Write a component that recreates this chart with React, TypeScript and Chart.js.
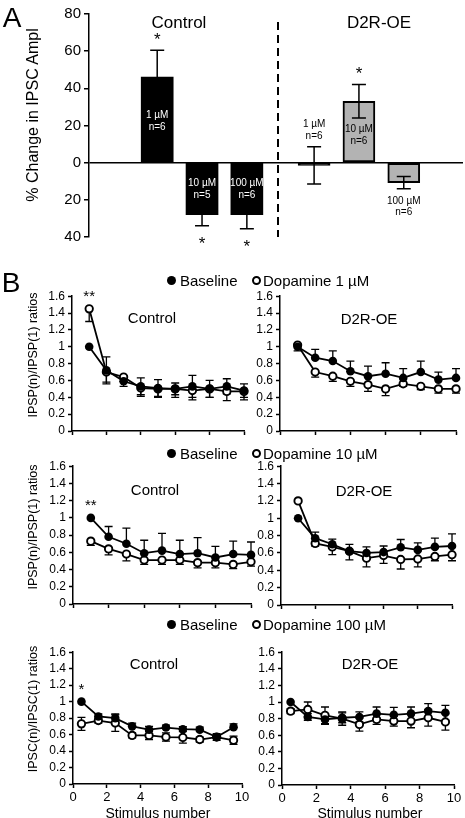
import React, { useEffect, useRef } from 'react';
import { Chart, registerables } from 'chart.js';
Chart.register(...registerables);

const FONT = '"Liberation Sans", Arial, Helvetica, sans-serif';
Chart.defaults.font.family = FONT;
Chart.defaults.color = '#000';

// ---------- Panel A data ----------
const A_GROUPS = ['Control', 'Control', 'Control', 'D2R-OE', 'D2R-OE', 'D2R-OE'];
const A_CONC = ['1 µM', '10 µM', '100 µM', '1 µM', '10 µM', '100 µM'];
const A_N = ['n=6', 'n=5', 'n=6', 'n=6', 'n=6', 'n=6'];
const A_SLOTS = [0, 1, 2, 3.5, 4.5, 5.5];
const A_VALUES = [46, -28, -28, -1.5, 33, -10.7];
const A_SEM = [14.5, 6, 7.5, 10, 9, 3.3];
const A_SIG = ['*', '*', '*', '', '*', ''];
const A_LABEL_POS = ['in', 'in', 'in', 'above', 'in', 'below'];
const A_DIVIDER = 2.7;

// ---------- Panel B data ----------
const STIM_AB = [1, 2, 3, 4, 5, 6, 7, 8, 9, 10];
const STIM_C = [0.5, 1.5, 2.5, 3.5, 4.5, 5.5, 6.5, 7.5, 8.5, 9.5];
const LEGEND_DOSES = ['1 µM', '10 µM', '100 µM'];

const B1_CTRL_BASE = [1.0, 0.72, 0.59, 0.53, 0.51, 0.50, 0.53, 0.50, 0.53, 0.48];
const B1_CTRL_BASE_SEM = [0, 0.16, 0.06, 0.1, 0.1, 0.07, 0.13, 0.1, 0.09, 0.08];
const B1_CTRL_DA = [1.45, 0.70, 0.64, 0.51, 0.50, 0.50, 0.48, 0.50, 0.47, 0.47];
const B1_CTRL_DA_SEM = [0.15, 0.12, 0.05, 0.1, 0.1, 0.1, 0.11, 0.1, 0.11, 0.1];

const B1_D2R_BASE = [1.0, 0.87, 0.83, 0.71, 0.65, 0.68, 0.63, 0.70, 0.61, 0.63];
const B1_D2R_BASE_SEM = [0.03, 0.1, 0.12, 0.12, 0.12, 0.13, 0.11, 0.13, 0.09, 0.11];
const B1_D2R_DA = [1.02, 0.70, 0.65, 0.59, 0.55, 0.50, 0.56, 0.53, 0.50, 0.50];
const B1_D2R_DA_SEM = [0.07, 0.06, 0.06, 0.06, 0.08, 0.08, 0.03, 0.04, 0.05, 0.05];

const B2_CTRL_BASE = [1.0, 0.78, 0.70, 0.59, 0.62, 0.58, 0.59, 0.54, 0.58, 0.57];
const B2_CTRL_BASE_SEM = [0, 0.12, 0.18, 0.15, 0.2, 0.16, 0.18, 0.13, 0.15, 0.15];
const B2_CTRL_DA = [0.73, 0.64, 0.58, 0.51, 0.51, 0.51, 0.48, 0.48, 0.46, 0.49];
const B2_CTRL_DA_SEM = [0.05, 0.07, 0.08, 0.05, 0.05, 0.05, 0.06, 0.06, 0.05, 0.05];

const B2_D2R_BASE = [1.0, 0.77, 0.70, 0.62, 0.60, 0.61, 0.665, 0.635, 0.67, 0.68];
const B2_D2R_BASE_SEM = [0, 0.07, 0.06, 0.08, 0.07, 0.07, 0.09, 0.08, 0.1, 0.14];
const B2_D2R_DA = [1.2, 0.71, 0.67, 0.62, 0.54, 0.57, 0.525, 0.53, 0.56, 0.58];
const B2_D2R_DA_SEM = [0, 0.03, 0.09, 0.1, 0.1, 0.09, 0.11, 0.09, 0.05, 0.07];

const B3_CTRL_BASE = [1.0, 0.82, 0.80, 0.70, 0.66, 0.685, 0.665, 0.66, 0.57, 0.69];
const B3_CTRL_BASE_SEM = [0, 0.03, 0.05, 0.04, 0.04, 0.03, 0.03, 0.03, 0.03, 0.04];
const B3_CTRL_DA = [0.73, 0.77, 0.74, 0.59, 0.59, 0.57, 0.565, 0.54, 0.57, 0.53];
const B3_CTRL_DA_SEM = [0.08, 0.03, 0.1, 0.03, 0.05, 0.05, 0.07, 0.03, 0.04, 0.05];

const B3_D2R_BASE = [1.0, 0.82, 0.79, 0.81, 0.82, 0.86, 0.845, 0.86, 0.89, 0.87];
const B3_D2R_BASE_SEM = [0, 0.04, 0.06, 0.06, 0.06, 0.08, 0.09, 0.08, 0.09, 0.09];
const B3_D2R_DA = [0.89, 0.91, 0.84, 0.80, 0.73, 0.79, 0.77, 0.77, 0.81, 0.76];
const B3_D2R_DA_SEM = [0.03, 0.09, 0.1, 0.08, 0.08, 0.06, 0.06, 0.08, 0.1, 0.1];

const B_SPECS: any[] = [
  { xs: STIM_AB, base: B1_CTRL_BASE, baseSem: B1_CTRL_BASE_SEM, baseDir: 'both', da: B1_CTRL_DA, daSem: B1_CTRL_DA_SEM, daDir: 'down', sig: '**', showX: false,
    c: { left: 0, top: 286, w: 262, h: 160 }, a: { l: 72, r: 244, t: 295, b: 431 } },
  { xs: STIM_AB, base: B1_D2R_BASE, baseSem: B1_D2R_BASE_SEM, baseDir: 'up', da: B1_D2R_DA, daSem: B1_D2R_DA_SEM, daDir: 'down', sig: '', showX: false,
    c: { left: 245, top: 286, w: 220, h: 160 }, a: { l: 280, r: 456, t: 295, b: 431 } },
  { xs: STIM_AB, base: B2_CTRL_BASE, baseSem: B2_CTRL_BASE_SEM, baseDir: 'up', da: B2_CTRL_DA, daSem: B2_CTRL_DA_SEM, daDir: 'down', sig: '**', showX: false,
    c: { left: 0, top: 456, w: 262, h: 162 }, a: { l: 73, r: 251, t: 465, b: 604 } },
  { xs: STIM_AB, base: B2_D2R_BASE, baseSem: B2_D2R_BASE_SEM, baseDir: 'up', da: B2_D2R_DA, daSem: B2_D2R_DA_SEM, daDir: 'down', sig: '', showX: false,
    c: { left: 245, top: 456, w: 220, h: 162 }, a: { l: 281, r: 452, t: 466, b: 605 } },
  { xs: STIM_C, base: B3_CTRL_BASE, baseSem: B3_CTRL_BASE_SEM, baseDir: 'up', da: B3_CTRL_DA, daSem: B3_CTRL_DA_SEM, daDir: 'both', sig: '*', showX: true,
    c: { left: 0, top: 642, w: 262, h: 176 }, a: { l: 73, r: 242, t: 651, b: 784 } },
  { xs: STIM_C, base: B3_D2R_BASE, baseSem: B3_D2R_BASE_SEM, baseDir: 'both', da: B3_D2R_DA, daSem: B3_D2R_DA_SEM, daDir: 'both', sig: '', showX: true,
    c: { left: 245, top: 642, w: 220, h: 176 }, a: { l: 282, r: 454, t: 652, b: 785 } },
];

// ---------- helpers ----------
function Txt({ x, y, size, rotate, align, children }: any) {
  const tr = align === 'left' ? 'translate(0,-50%)' : 'translate(-50%,-50%)' + (rotate ? ' rotate(-90deg)' : '');
  return (
    <div style={{ position: 'absolute', left: x, top: y, transform: tr, fontSize: size, lineHeight: 1,
      fontFamily: FONT, whiteSpace: 'nowrap', color: '#000' }}>{children}</div>
  );
}

function Legend({ y, dose }: any) {
  return (
    <>
      <div style={{ position: 'absolute', left: 171 - 4.5, top: y - 4.5, width: 9, height: 9, borderRadius: '50%', background: '#000' }} />
      <Txt x={180} y={y} size={15} align="left">Baseline</Txt>
      <div style={{ position: 'absolute', left: 256 - 4.5, top: y - 4.5, width: 9, height: 9, boxSizing: 'border-box', border: '2px solid #000', borderRadius: '50%', background: '#fff' }} />
      <Txt x={263} y={y} size={15} align="left">Dopamine {dose}</Txt>
    </>
  );
}

const axisGrid = { drawOnChartArea: false, drawTicks: true, tickLength: 4, tickColor: '#000', tickWidth: 1.5, color: '#000' };
const axisBorder = { display: true, color: '#000', width: 1.5 };

// ---------- Panel A ----------
const aPlugin = {
  id: 'aDeco',
  afterDatasetsDraw(chart: any) {
    const { ctx, chartArea } = chart;
    const x = chart.scales.x, y = chart.scales.y;
    ctx.save();
    // divider
    ctx.strokeStyle = '#000';
    ctx.lineWidth = 2;
    ctx.setLineDash([8, 5]);
    const dx = Math.round(x.getPixelForValue(A_DIVIDER));
    ctx.beginPath();
    ctx.moveTo(dx, chartArea.top + 8);
    ctx.lineTo(dx, chartArea.bottom);
    ctx.stroke();
    ctx.setLineDash([]);
    // error bars, labels, asterisks
    ctx.lineWidth = 1.5;
    A_VALUES.forEach((v, i) => {
      const px = x.getPixelForValue(A_SLOTS[i]);
      const s = A_SEM[i];
      const outward = A_GROUPS[i] === 'Control';
      let hi: number, lo: number;
      if (outward) { if (v >= 0) { hi = v + s; lo = v; } else { hi = v; lo = v - s; } }
      else { hi = v + s; lo = v - s; }
      const yh = y.getPixelForValue(hi), yl = y.getPixelForValue(lo);
      ctx.strokeStyle = '#000';
      ctx.beginPath();
      ctx.moveTo(px, yh); ctx.lineTo(px, yl);
      if (!outward || v >= 0) { ctx.moveTo(px - 7, yh); ctx.lineTo(px + 7, yh); }
      if (!outward || v < 0) { ctx.moveTo(px - 7, yl); ctx.lineTo(px + 7, yl); }
      ctx.stroke();

      // labels
      const y0 = y.getPixelForValue(0), yv = y.getPixelForValue(v);
      ctx.font = `10px ${FONT}`;
      ctx.textAlign = 'center';
      ctx.textBaseline = 'middle';
      let l1: number, l2: number, col = '#000';
      const pos = A_LABEL_POS[i];
      if (pos === 'in') {
        const mid = (y0 + yv) / 2 + (outward ? 1 : 3);
        l1 = mid - 6; l2 = mid + 6;
        col = outward ? '#fff' : '#000';
      } else if (pos === 'above') {
        l1 = yh - 23; l2 = yh - 11;
      } else {
        l1 = yl + 13; l2 = yl + 24;
      }
      ctx.fillStyle = col;
      ctx.fillText(A_CONC[i], px, l1);
      ctx.fillText(A_N[i], px, l2);

      if (A_SIG[i]) {
        ctx.fillStyle = '#000';
        ctx.font = `17px ${FONT}`;
        ctx.textBaseline = 'alphabetic';
        const c = v >= 0 ? yh - 15 : yl + 13.5;
        ctx.fillText(A_SIG[i], px, c + 0.57 * 17);
      }
    });
    ctx.restore();
  },
};

function ChartA() {
  const ref = useRef<HTMLCanvasElement>(null);
  useEffect(() => {
    const H = 252;
    const chart = new Chart(ref.current as any, {
      type: 'bar',
      data: {
        datasets: [{
          data: A_SLOTS.map((x, i) => ({ x, y: A_VALUES[i] })),
          // small (near-zero) bars render as a solid black strip
          backgroundColor: A_GROUPS.map((g, i) => (g === 'Control' || Math.abs(A_VALUES[i]) < 3 ? '#000' : '#b3b3b3')),
          borderColor: '#000',
          borderWidth: A_GROUPS.map(g => (g === 'Control' ? 0 : 2)),
          borderSkipped: false,
          barThickness: 32,
        } as any],
      },
      options: {
        responsive: false, animation: false, devicePixelRatio: 1, events: [],
        layout: { padding: { left: 0, right: 2, top: 14, bottom: H - 237 } },
        plugins: { legend: { display: false }, tooltip: { enabled: false } },
        scales: {
          x: { type: 'linear', display: false, min: -1, max: 6.3 },
          y: {
            min: -40, max: 80,
            afterFit: (s: any) => { s.width = 89; },
            ticks: { stepSize: 20, autoSkip: false, font: { size: 15 }, color: '#000', padding: 3, callback: (v: any) => String(Math.abs(v)) },
            grid: {
              drawOnChartArea: true, drawTicks: true, tickLength: 5, tickColor: '#000', tickWidth: 1.5,
              color: (c: any) => (c.tick && c.tick.value === 0 ? '#000' : 'rgba(0,0,0,0)'), lineWidth: 1.5,
            },
            border: axisBorder,
          },
        },
      } as any,
      plugins: [aPlugin],
    });
    return () => chart.destroy();
  }, []);
  return <canvas ref={ref} width={465} height={252} style={{ position: 'absolute', left: 0, top: 0 }} />;
}

// ---------- Panel B ----------
const errPlugin = {
  id: 'errB',
  beforeDatasetsDraw(chart: any) {
    const { ctx } = chart;
    const xs = chart.scales.x, ys = chart.scales.y;
    ctx.save();
    ctx.strokeStyle = '#000';
    ctx.lineWidth = 1.3;
    chart.data.datasets.forEach((ds: any) => {
      ds.data.forEach((p: any, i: number) => {
        const s = ds.sem[i];
        if (!s) return;
        const x = xs.getPixelForValue(p.x);
        const hi = ds.errDir === 'down' ? p.y : p.y + s;
        const lo = ds.errDir === 'up' ? p.y : p.y - s;
        const yh = ys.getPixelForValue(hi), yl = ys.getPixelForValue(lo);
        ctx.beginPath();
        ctx.moveTo(x, yh); ctx.lineTo(x, yl);
        if (ds.errDir !== 'down') { ctx.moveTo(x - 4, yh); ctx.lineTo(x + 4, yh); }
        if (ds.errDir !== 'up') { ctx.moveTo(x - 4, yl); ctx.lineTo(x + 4, yl); }
        ctx.stroke();
      });
    });
    ctx.restore();
  },
  afterDatasetsDraw(chart: any) {
    const sig = chart.options.plugins.errB && chart.options.plugins.errB.sig;
    if (!sig) return;
    const { ctx } = chart;
    const xs = chart.scales.x, ys = chart.scales.y;
    const d0 = chart.data.datasets[0].data[0], d1 = chart.data.datasets[1].data[0];
    const x = xs.getPixelForValue(d0.x);
    const top = Math.min(ys.getPixelForValue(d0.y), ys.getPixelForValue(d1.y));
    ctx.save();
    ctx.fillStyle = '#000';
    ctx.font = `15px ${FONT}`;
    ctx.textAlign = 'center';
    ctx.textBaseline = 'alphabetic';
    ctx.fillText(sig, x, top - 16 + 0.57 * 15);
    ctx.restore();
  },
};

function BChart({ spec }: any) {
  const ref = useRef<HTMLCanvasElement>(null);
  useEffect(() => {
    const c = spec.c, a = spec.a;
    const mk = (vals: number[], sem: number[], dir: string, filled: boolean) => ({
      data: spec.xs.map((x: number, i: number) => ({ x, y: vals[i] })),
      sem, errDir: dir,
      borderColor: '#000', borderWidth: 1.8,
      pointRadius: filled ? 4.3 : 3.7,
      pointBorderWidth: filled ? 0 : 1.9,
      pointBackgroundColor: filled ? '#000' : '#fff',
      pointBorderColor: '#000',
      clip: false, tension: 0, fill: false,
    });
    const chart = new Chart(ref.current as any, {
      type: 'line',
      data: { datasets: [mk(spec.base, spec.baseSem, spec.baseDir, true), mk(spec.da, spec.daSem, spec.daDir, false)] as any },
      options: {
        responsive: false, animation: false, devicePixelRatio: 1, events: [],
        layout: { padding: { left: 0, right: c.left + c.w - a.r, top: a.t - c.top, bottom: 0 } },
        plugins: { legend: { display: false }, tooltip: { enabled: false }, errB: { sig: spec.sig } },
        scales: {
          x: {
            type: 'linear', min: 0, max: 10,
            afterFit: (s: any) => { s.height = c.top + c.h - a.b; },
            ticks: { display: spec.showX, stepSize: 2, autoSkip: false, maxRotation: 0, font: { size: 13 }, color: '#000', padding: 2 },
            grid: axisGrid, border: axisBorder,
          },
          y: {
            min: 0, max: 1.6,
            afterFit: (s: any) => { s.width = a.l - c.left; },
            ticks: { stepSize: 0.2, autoSkip: false, font: { size: 12 }, color: '#000', padding: 3, callback: (v: any) => String(Math.round(v * 10) / 10) },
            grid: axisGrid, border: axisBorder,
          },
        },
      } as any,
      plugins: [errPlugin],
    });
    return () => chart.destroy();
  }, []);
  return <canvas ref={ref} width={spec.c.w} height={spec.c.h} style={{ position: 'absolute', left: spec.c.left, top: spec.c.top }} />;
}

export default function App() {
  return (
    <div style={{ position: 'fixed', left: 0, top: 0, width: 465, height: 818, background: '#fff', overflow: 'hidden', fontFamily: FONT, color: '#000' }}>
      <ChartA />
      {B_SPECS.map((s, i) => <BChart key={i} spec={s} />)}

      <Txt x={12} y={18} size={28}>A</Txt>
      <Txt x={33} y={115} size={16} rotate>% Change in IPSC Ampl</Txt>
      <Txt x={179} y={21.5} size={17}>Control</Txt>
      <Txt x={379} y={21.5} size={17}>D2R-OE</Txt>

      <Txt x={11} y={283} size={28}>B</Txt>
      <Legend y={280} dose={LEGEND_DOSES[0]} />
      <Legend y={453} dose={LEGEND_DOSES[1]} />
      <Legend y={624} dose={LEGEND_DOSES[2]} />

      <Txt x={152} y={317} size={15}>Control</Txt>
      <Txt x={369} y={318} size={15}>D2R-OE</Txt>
      <Txt x={155} y={489} size={15}>Control</Txt>
      <Txt x={364} y={490} size={15}>D2R-OE</Txt>
      <Txt x={154} y={663} size={15}>Control</Txt>
      <Txt x={370} y={663} size={15}>D2R-OE</Txt>

      <Txt x={33} y={355} size={12.5} rotate>IPSP(n)/IPSP(1) ratios</Txt>
      <Txt x={33} y={527} size={12.5} rotate>IPSP(n)/IPSP(1) ratios</Txt>
      <Txt x={33} y={709} size={12.5} rotate>IPSC(n)/IPSC(1) ratios</Txt>

      <Txt x={158} y={813} size={14}>Stimulus number</Txt>
      <Txt x={370} y={813} size={14}>Stimulus number</Txt>
    </div>
  );
}
